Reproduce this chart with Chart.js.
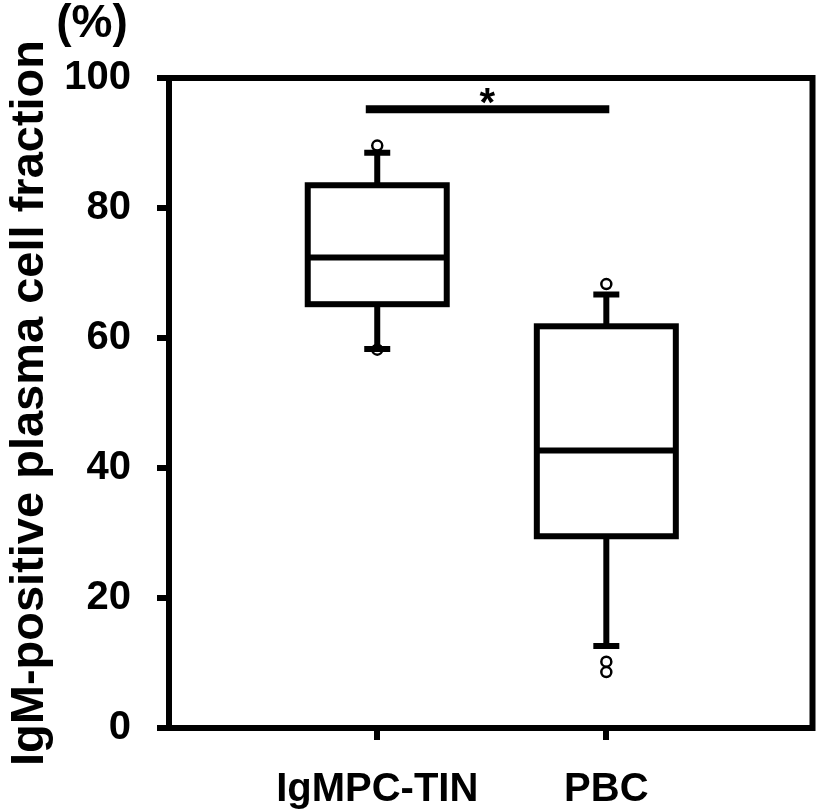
<!DOCTYPE html>
<html>
<head>
<meta charset="utf-8">
<script src="https://cdn.jsdelivr.net/npm/chart.js@4"></script>
<style>
  body { margin: 0; background: #fff; }
</style>
</head>
<body>
<canvas id="boxChart" width="820" height="812"></canvas>
<script>
// values (percent)
const categories = ['IgMPC-TIN', 'PBC'];
const whiskerLow = [58.3, 12.6];
const q1 = [65.2, 29.5];
const median = [72.4, 42.7];
const q3 = [83.5, 61.8];
const whiskerHigh = [88.5, 66.7];
const outliers = [[89.6, 58.2], [68.3, 10.2, 8.6]];
const yTicks = [0, 20, 40, 60, 80, 100];

const FONT = "'Liberation Sans', Arial, sans-serif";

const outlierPoints = [];
outliers.forEach((vals, i) => vals.forEach(v => outlierPoints.push({ x: i, y: v })));

// boxes, whiskers, frame and the significance bar drawn through the scales
const boxPlugin = {
    id: 'boxPlot',
    afterDatasetsDraw(chart) {
        const { ctx, chartArea, scales: { x, y } } = chart;
        ctx.save();
        ctx.strokeStyle = '#000';
        ctx.lineWidth = 6;
        ctx.lineCap = 'butt';
        ctx.lineJoin = 'miter';

        // frame
        ctx.strokeRect(chartArea.left, chartArea.top,
            chartArea.right - chartArea.left, chartArea.bottom - chartArea.top);

        const half = 69.5, cap = 13;
        categories.forEach((c, i) => {
            const cx = x.getPixelForValue(i);
            const top = y.getPixelForValue(q3[i]);
            const bot = y.getPixelForValue(q1[i]);
            ctx.fillStyle = '#fff';
            ctx.fillRect(cx - half, top, half * 2, bot - top);
            ctx.strokeRect(cx - half, top, half * 2, bot - top);

            const med = y.getPixelForValue(median[i]);
            const hi = y.getPixelForValue(whiskerHigh[i]);
            const lo = y.getPixelForValue(whiskerLow[i]);
            ctx.beginPath();
            ctx.moveTo(cx - half, med); ctx.lineTo(cx + half, med);
            ctx.moveTo(cx, top); ctx.lineTo(cx, hi);
            ctx.moveTo(cx - cap, hi); ctx.lineTo(cx + cap, hi);
            ctx.moveTo(cx, bot); ctx.lineTo(cx, lo);
            ctx.moveTo(cx - cap, lo); ctx.lineTo(cx + cap, lo);
            ctx.stroke();
        });

        // significance bar
        const by = y.getPixelForValue(95.2);
        ctx.lineWidth = 8;
        ctx.beginPath();
        ctx.moveTo(x.getPixelForValue(-0.05), by);
        ctx.lineTo(x.getPixelForValue(1.013), by);
        ctx.stroke();

        ctx.fillStyle = '#000';
        ctx.font = 'bold 40px ' + FONT;
        ctx.textAlign = 'center';
        ctx.textBaseline = 'middle';
        ctx.fillText('*', x.getPixelForValue(0.48), by - 4);

        // unit label above the axis
        ctx.font = 'bold 46px ' + FONT;
        ctx.fillText('(%)', 92, 24);
        ctx.restore();
    }
};

new Chart(document.getElementById('boxChart').getContext('2d'), {
    type: 'scatter',
    data: {
        datasets: [{
            label: 'outliers',
            data: outlierPoints,
            pointStyle: 'circle',
            pointRadius: 5,
            pointHoverRadius: 5,
            borderWidth: 2.5,
            borderColor: '#000',
            backgroundColor: '#fff'
        }]
    },
    options: {
        responsive: false,
        animation: false,
        layout: { padding: { top: 78, right: 5, bottom: 0, left: 2 } },
        plugins: { legend: { display: false }, tooltip: { enabled: false } },
        scales: {
            x: {
                type: 'linear',
                min: -0.909,
                max: 1.9,
                afterBuildTicks: scale => {
                    scale.ticks = categories.map((c, i) => ({ value: i }));
                },
                afterFit: scale => { scale.height = 84; },
                ticks: {
                    callback: v => categories[v],
                    color: '#000',
                    padding: 26,
                    maxRotation: 0,
                    font: { family: FONT, size: 40, weight: 'bold' }
                },
                grid: { drawOnChartArea: false, color: '#000', lineWidth: 6, tickLength: 12 },
                border: { display: false }
            },
            y: {
                min: 0,
                max: 100,
                afterBuildTicks: scale => {
                    scale.ticks = yTicks.map(v => ({ value: v }));
                },
                afterFit: scale => { scale.width = 167; },
                ticks: {
                    color: '#000',
                    padding: 26,
                    font: { family: FONT, size: 40, weight: 'bold' }
                },
                grid: { drawOnChartArea: false, color: '#000', lineWidth: 6, tickLength: 12 },
                border: { display: false },
                title: {
                    display: true,
                    text: 'IgM-positive plasma cell fraction',
                    color: '#000',
                    font: { family: FONT, size: 47, weight: 'bold' },
                    padding: { top: 0, bottom: 4 }
                }
            }
        }
    },
    plugins: [boxPlugin]
});
</script>
</body>
</html>
